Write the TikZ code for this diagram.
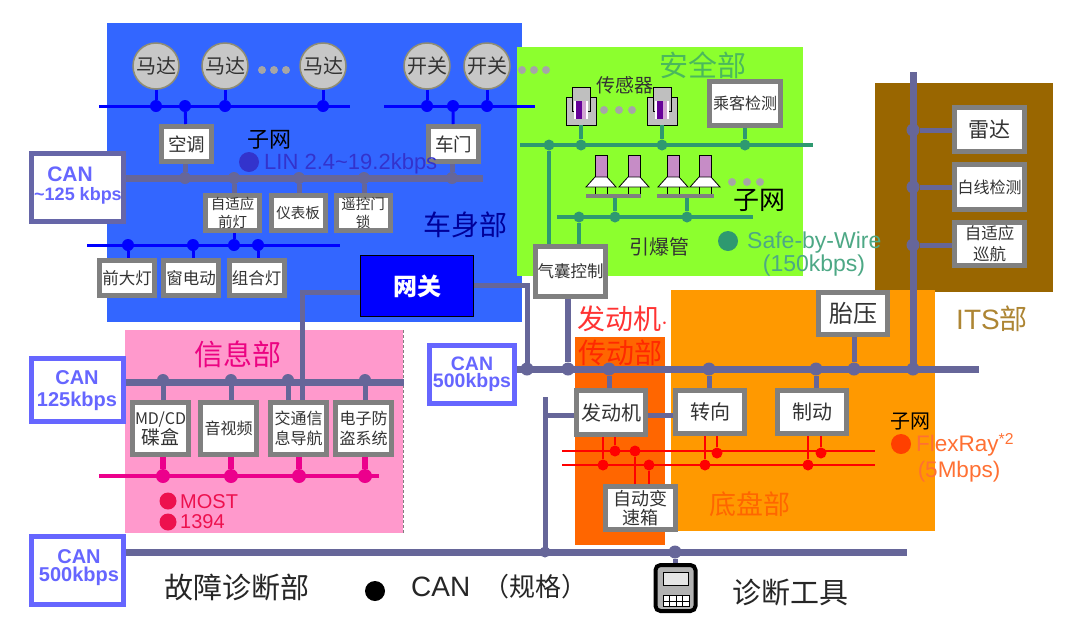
\documentclass[tikz,border=0pt]{standalone}
\usepackage{fontspec}
\usetikzlibrary{calc}
\setmainfont{Noto Sans CJK SC}
\newfontfamily\latin{Liberation Sans}
\definecolor{bodyblue}{HTML}{3366FF}
\definecolor{safegreen}{HTML}{8CFF2E}
\definecolor{itsbrown}{HTML}{996600}
\definecolor{chassis}{HTML}{FF9900}
\definecolor{powertrain}{HTML}{FF6600}
\definecolor{infopink}{HTML}{FF99CC}
\definecolor{busgray}{HTML}{666699}
\definecolor{boxgray}{HTML}{808080}
\definecolor{canblue}{HTML}{6666FF}
\definecolor{wiregreen}{HTML}{2E9970}
\definecolor{lintext}{HTML}{3333CC}
\definecolor{flextext}{HTML}{FF7033}
\newcommand{\fsz}[1]{\fontsize{#1}{#1}\selectfont\baselineskip=1.25\baselineskip}
\tikzset{
  unit/.style={draw=boxgray, line width=5pt, fill=white, inner sep=0, align=center, font=\fsz{16}, text=black!80},
  canbox/.style={draw=canblue, line width=5pt, fill=white, inner sep=0, align=center, text=canblue, font=\latin\bfseries\fsz{18}},
  motor/.style={circle, draw=gray!80!olive, line width=1.5pt, fill=black!22, minimum size=46pt, inner sep=0, font=\fsz{20}, text=black!80},
  label/.style={inner sep=0, align=center},
  gdot/.style={circle, fill=boxgray!70, minimum size=8pt, inner sep=0},
  jdot/.style={circle, fill=#1, minimum size=12pt, inner sep=0},
  lin/.style={draw=blue, line width=3pt},
  can/.style={draw=busgray, line width=7pt},
  canthin/.style={draw=busgray, line width=5pt},
  sbw/.style={draw=wiregreen, line width=3.5pt},
  flex/.style={draw=red, line width=2.5pt},
  most/.style={draw=magenta, line width=4pt},
  sensor/.pic={
    \draw[fill=black!25, line width=0.8pt] (-15,-28) rectangle (15,0);
    \draw[fill=black!25, line width=0.8pt] (-9,-38) rectangle (9,-14);
    \fill[white] (-7,-24) rectangle (7,-6);
    \fill[violet!80!blue] (-5,-24) rectangle (1,-6);
    \fill[violet!35] (1,-24) rectangle (5,-6);
  },
  squib/.pic={
    \draw[fill=violet!45, line width=0.8pt] (-6,-41) rectangle (6,-19);
    \draw[fill=white, line width=0.8pt] (-6,-19) -- (6,-19) -- (15,-9) -- (-15,-9) -- cycle;
    \draw[line width=0.8pt] (-6,-9) -- (-6,0) (6,-9) -- (6,0);
  }
}
\begin{document}
\begin{tikzpicture}[x=1pt, y=-1pt]
\useasboundingbox (0,0) rectangle (1070,619);
% regions
\fill[bodyblue] (107,23) rectangle (522,322);
\fill[safegreen] (517,47) rectangle (803,276);
\fill[itsbrown] (875,83) rectangle (1053,292);
\fill[chassis] (671,290) rectangle (935,531);
\fill[powertrain] (575,337) rectangle (665,545);
\fill[infopink] (125,330) rectangle (403,533);
\draw[black!50, densely dashed, line width=0.5pt] (403,330) -- (403,533);
% bus ends
\coordinate (linAl) at (99,106);
\coordinate (linAr) at (350,106);
\coordinate (linBl) at (384,106);
\coordinate (linBr) at (535,106);
\coordinate (linCl) at (87,245);
\coordinate (linCr) at (340,245);
\coordinate (bodyr) at (483,178);
\coordinate (infor) at (404,382);
\coordinate (mainr) at (979,369);
\coordinate (diagr) at (907,552);
\coordinate (itstop) at (913,72);
\coordinate (sbwAl) at (520,145);
\coordinate (sbwAr) at (813,145);
\coordinate (sbwBl) at (557,217);
\coordinate (sbwBr) at (753,217);
\coordinate (mostl) at (99,476);
\coordinate (mostr) at (379,476);
\coordinate (flexAl) at (562,451);
\coordinate (flexAr) at (875,451);
\coordinate (flexBl) at (562,465);
\coordinate (flexBr) at (875,465);
\coordinate (gwturn) at (302,292);
\coordinate (gwdown) at (527,285);
\coordinate (diagup) at (545,397);
\coordinate (diagturn) at (545,415);
% can gateways
\node[canbox, draw=busgray!85!canblue, minimum width=92pt, minimum height=68pt] (canbody) at (77.5,187.5) {};
\node[canbox, minimum width=92pt, minimum height=63pt] (caninfo) at (77.5,390) {};
\node[canbox, minimum width=92pt, minimum height=68pt] (candiag) at (77.5,570.5) {};
\node[canbox, minimum width=85pt, minimum height=58pt] (canmain) at (472,374.5) {};
% motors and switches
\foreach \n/\x/\t in {motA/156/马达, motB/225/马达, motC/323/马达, swA/427/开关, swB/487/开关}
  \node[motor] (\n) at (\x,66) {\t};
\foreach \n/\x/\y in {d1/262/70, d2/274/70, d3/286/70, d4/522/70, d5/534/70, d6/546/70}
  \node[gdot] (\n) at (\x,\y) {};
% units
\node[unit, minimum width=50pt, minimum height=35pt, font=\fsz{18.5}] (air) at (186.5,144) {空调};
\node[unit, minimum width=50pt, minimum height=35pt, font=\fsz{18.5}] (door) at (453.5,144) {车门};
\node[unit, minimum width=54pt, minimum height=35pt, font=\fsz{14.5}] (afs) at (232.5,213) {自适应\\前灯};
\node[unit, minimum width=54pt, minimum height=35pt, font=\fsz{14.5}] (dash) at (298,213) {仪表板};
\node[unit, minimum width=54pt, minimum height=35pt, font=\fsz{14.5}] (lock) at (363,213) {遥控门\\锁};
\node[unit, minimum width=55pt, minimum height=35pt, font=\fsz{16.5}] (head) at (127,278) {前大灯};
\node[unit, minimum width=55pt, minimum height=35pt, font=\fsz{16.5}] (win) at (191,278) {窗电动};
\node[unit, minimum width=55pt, minimum height=35pt, font=\fsz{16.5}] (combi) at (256.5,278) {组合灯};
\node[draw=black, line width=1.5pt, fill=blue, minimum width=113pt, minimum height=61pt, inner sep=0, text=white, font=\bfseries\fsz{24}] (gw) at (417,286) {网关};
\node[unit, minimum width=56pt, minimum height=52pt, font=\fsz{16}] (cd) at (160.5,428.5) {MD/CD\\{\fsz{19}碟盒}};
\node[unit, minimum width=56pt, minimum height=52pt, font=\fsz{16}] (av) at (228.5,428.5) {音视频};
\node[unit, minimum width=56pt, minimum height=52pt, font=\fsz{16}] (nav) at (298.5,428.5) {交通信\\息导航};
\node[unit, minimum width=56pt, minimum height=52pt, font=\fsz{16}] (alarm) at (363.5,428.5) {电子防\\盗系统};
\node[unit, minimum width=71pt, minimum height=44pt, font=\fsz{16}] (pass) at (745,103.5) {乘客检测};
\node[unit, minimum width=70pt, minimum height=50pt, font=\fsz{16.5}] (bag) at (570.5,271) {气囊控制};
\node[unit, minimum width=70pt, minimum height=44pt, font=\fsz{21}] (radar) at (989.5,129.5) {雷达};
\node[unit, minimum width=70pt, minimum height=45pt, font=\fsz{16}] (lane) at (989.5,187) {白线检测};
\node[unit, minimum width=70pt, minimum height=43pt, font=\fsz{16.5}] (acc) at (989.5,244) {自适应\\巡航};
\node[unit, minimum width=69pt, minimum height=42pt, font=\fsz{24}] (tire) at (853,313.5) {胎压};
\node[unit, minimum width=69pt, minimum height=44pt, font=\fsz{20}] (eng) at (611,412.5) {发动机};
\node[unit, minimum width=69pt, minimum height=43pt, font=\fsz{20}] (steer) at (710,412) {转向};
\node[unit, minimum width=69pt, minimum height=43pt, font=\fsz{20}] (brake) at (812,412) {制动};
\node[unit, minimum width=70pt, minimum height=43pt, font=\fsz{18}] (atm) at (640,508) {自动变\\[-4pt]速箱};
% sensors and squibs
\coordinate (sensA) at (581,125);
\coordinate (sensB) at (662,125);
\pic at (sensA) {sensor};
\pic at (sensB) {sensor};
\foreach \n/\x in {d7/604, d8/619, d9/632}
  \node[gdot] (\n) at (\x,110) {};
\foreach \n/\x in {d10/732, d11/747, d12/760}
  \node[gdot] (\n) at (\x,182) {};
\foreach \x in {601, 634, 673, 705}
  \pic at (\x,196) {squib};
\coordinate (barAl) at (586,196);
\coordinate (barAr) at (641,196);
\coordinate (barBl) at (657,196);
\coordinate (barBr) at (714,196);
\coordinate (barA) at (615,196);
\coordinate (barB) at (687,196);
% buses
\draw[lin] (linAl) -- (linAr);
\draw[lin] (linBl) -- (linBr);
\draw[lin] (linCl) -- (linCr);
\draw[can] (canbody.east |- bodyr) -- (bodyr);
\draw[can] (caninfo.east |- infor) -- (infor);
\draw[can] (candiag.east |- diagr) -- (diagr);
\draw[can] (canmain.east |- mainr) -- (mainr);
\draw[can] (itstop) -- (itstop |- mainr);
\draw[sbw] (sbwAl) -- (sbwAr);
\draw[sbw] (sbwBl) -- (sbwBr);
\draw[most] (mostl) -- (mostr);
\draw[flex] (flexAl) -- (flexAr);
\draw[flex] (flexBl) -- (flexBr);
\draw[canthin] (gw.west |- gwturn) -- (gwturn) -- (gwturn |- nav.north);
\draw[canthin] (gw.east |- gwdown) -- (gwdown) -- (gwdown |- mainr);
\draw[canthin] (diagup) -- (diagup |- diagr);
\draw[canthin] (diagturn) -- (eng.west |- diagturn);
\draw[canthin] (eng.east |- diagturn) -- (steer.west |- diagturn);
% stubs and joints, lin
\foreach \n/\m/\x in {jA/motA/156, jB/motB/225, jC/motC/323, jD/swA/427, jE/swB/487}{
  \node[jdot=blue] (\n) at (\x,106) {};
  \draw[lin] (\m) -- (\n);
}
\node[jdot=blue] (jF) at (185,106) {};
\node[jdot=blue] (jG) at (453,106) {};
\draw[lin] (jF) -- (air);
\draw[lin] (jG) -- (door);
\foreach \n/\m/\x in {jH/head/128, jI/win/193, jK/combi/258}{
  \node[jdot=blue] (\n) at (\x,245) {};
  \draw[lin] (\n) -- (\n |- \m.north);
}
\node[jdot=blue] (jJ) at (234,245) {};
\draw[lin] (jJ) -- (jJ |- afs.south);
% stubs and joints, can
\foreach \n/\x in {cA/185, cB/234, cC/299, cD/364, cE/452}
  \node[jdot=busgray] (\n) at (\x,178) {};
\draw[canthin] (cA) -- (cA |- air.south);
\draw[canthin] (cE) -- (cE |- door.south);
\draw[canthin] (cB) -- (cB |- afs.north);
\draw[canthin] (cC) -- (cC |- dash.north);
\draw[canthin] (cD) -- (cD |- lock.north);
\foreach \n/\m/\x in {iA/cd/163, iB/av/231, iC/nav/288, iD/alarm/365}{
  \node[jdot=busgray] (\n) at (\x,380) {};
  \draw[canthin] (\n) -- (\n |- \m.north);
}
\foreach \n/\m/\x in {pA/cd/163, pB/av/231, pC/nav/299, pD/alarm/365}{
  \node[jdot=magenta, minimum size=14pt] (\n) at (\x,476) {};
  \draw[most, line width=6pt] (\n) -- (\n |- \m.south);
}
\foreach \n/\x in {mA/527, mB/568, mC/609, mD/709, mE/816, mF/854, mG/913}
  \node[jdot=busgray, minimum size=13pt] (\n) at (\x,369) {};
\draw[can, line width=6pt] (mB) -- (mB |- bag.south);
\draw[can, line width=5pt] (mC) -- (mC |- eng.north);
\draw[can, line width=5pt] (mD) -- (mD |- steer.north);
\draw[can, line width=5pt] (mE) -- (mE |- brake.north);
\draw[can, line width=5pt] (mF) -- (mF |- tire.south);
\foreach \n/\m/\y in {tA/radar/130, tB/lane/187, tC/acc/245}{
  \node[jdot=busgray, minimum size=13pt] (\n) at (913,\y) {};
  \draw[can, line width=5pt] (\n) -- (\m.west |- \n);
}
\node[jdot=busgray, minimum size=11pt] (dA) at (545,552) {};
\node[jdot=busgray, minimum size=13pt] (dB) at (675,552) {};
% safe by wire
\foreach \n/\x in {sA/549, sB/581, sC/662, sD/745}
  \node[jdot=wiregreen, minimum size=11pt] (\n) at (\x,145) {};
\draw[sbw] (sB) -- (sensA);
\draw[sbw] (sC) -- (sensB);
\draw[sbw] (sD) -- (sD |- pass.south);
\draw[sbw] (sA) -- (sA |- bag.north);
\foreach \n/\x in {sE/579, sF/615, sG/687}
  \node[jdot=wiregreen, minimum size=11pt] (\n) at (\x,217) {};
\draw[sbw] (sE) -- (sE |- bag.north);
\draw[sbw] (sF) -- (barA);
\draw[sbw] (sG) -- (barB);
\draw[draw=boxgray, line width=3.5pt] (barAl) -- (barAr);
\draw[draw=boxgray, line width=3.5pt] (barBl) -- (barBr);
% flexray
\foreach \n/\x/\y in {fA/603/465, fB/615/451, fC/635/451, fD/649/465, fE/705/465, fF/717/453, fG/808/465, fH/821/453}
  \node[jdot=red, minimum size=11pt] (\n) at (\x,\y) {};
\foreach \n/\m in {fA/eng, fB/eng, fE/steer, fF/steer, fG/brake, fH/brake}
  \draw[flex] (\n) -- (\n |- \m.south);
\foreach \n in {fC, fD}
  \draw[flex] (\n) -- (\n |- atm.north);
% diagnosis tool
\node[draw=black, line width=4pt, rounded corners=5pt, fill=black!30, minimum width=40pt, minimum height=46pt, inner sep=0] (tool) at (675.5,588) {};
\node[draw=black, line width=1.5pt, fill=black!10, minimum width=25pt, minimum height=13pt, inner sep=0] (screen) at (676,579) {};
\node[draw=black, line width=1pt, fill=white, minimum width=26pt, minimum height=11pt, inner sep=0] (keys) at (676,601) {};
\foreach \x in {-6.5, 0, 6.5}
  \draw[line width=0.7pt] ($(keys.south)+(\x,0)$) -- ($(keys.north)+(\x,0)$);
\draw[line width=0.7pt] (keys.west) -- (keys.east);
\draw[can, line width=5pt] (dB) -- (dB |- tool.north);
\node[jdot=black, minimum size=20pt] (bullet) at (375,591) {};
% texts
\node[label, text=canblue, font=\latin\bfseries\fsz{21}] (tcanA) at (70,174) {CAN};
\node[label, text=canblue, font=\latin\bfseries\fsz{18}] (tcanB) at (78,196) {\textasciitilde125 kbps};
\node[label, text=canblue, font=\latin\bfseries\fsz{20}] (tcanC) at (77,391) {CAN\\[-3pt]125kbps};
\node[label, text=canblue, font=\latin\bfseries\fsz{20}] (tcanD) at (79,568) {CAN\\[-7pt]500kbps};
\node[label, text=canblue, font=\latin\bfseries\fsz{19.5}] (tcanE) at (472,374) {CAN\\[-7pt]500kbps};
\node[label, font=\fsz{22}] (subA) at (269,140) {子网};
\node[jdot=lintext, minimum size=20pt] (binA) at (249,162) {};
\node[label, anchor=west, text=lintext, font=\latin\fsz{22}] (tlin) at (264,164) {LIN 2.4\textasciitilde19.2kbps};
\node[label, text=blue!60!black, font=\fsz{28}] (tbody) at (465,225) {车身部};
\node[label, text=magenta!90!red, font=\fsz{29}] (tinfo) at (238,354) {信息部};
\node[jdot=magenta!40!red, minimum size=17pt] (binB) at (168,501) {};
\node[jdot=magenta!40!red, minimum size=17pt] (binC) at (168,522) {};
\node[label, anchor=west, text=magenta!40!red, font=\latin\fsz{20}] (tmost) at (180,502) {MOST};
\node[label, anchor=west, text=magenta!40!red, font=\latin\fsz{20}] (t1394) at (180,522) {1394};
\node[label, font=\fsz{29}, text=black!85] (tdiag) at (237,587) {故障诊断部};
\node[label, anchor=west, font=\latin\fsz{28}, text=black!85] (tcan) at (411,587) {CAN};
\node[label, font=\fsz{26}, text=black!85] (tspec) at (535,587) {（规格）};
\node[label, font=\fsz{29}, text=black!85] (ttool) at (790,593) {诊断工具};
\node[label, text=wiregreen!70!safegreen, font=\fsz{29}] (tsafe) at (703,65) {安全部};
\node[label, text=black!80, font=\fsz{19}] (tsens) at (625,85) {传感器};
\node[label, font=\fsz{26}] (subB) at (759,200) {子网};
\node[label, text=black!80, font=\fsz{20}] (tsquib) at (659,247) {引爆管};
\node[jdot=wiregreen, minimum size=20pt] (binD) at (728,241) {};
\node[label, anchor=west, text=wiregreen!85!white, font=\latin\fsz{23}] (tsbw) at (747,243) {Safe-by-Wire};
\node[label, text=wiregreen!85!white, font=\latin\fsz{23}] (tsbwb) at (814,266) {(150kbps)};
\node[label, text=itsbrown!80!white, font=\fsz{28}] (tits) at (992,319) {{\latin ITS}部};
\node[label, anchor=west, text=red!80!white, font=\fsz{28}] (tpowA) at (577,319) {发动机$\cdot$};
\node[label, text=red!60!powertrain, font=\fsz{28}] (tpowB) at (620,353) {传动部};
\node[label, text=powertrain, font=\fsz{27}] (tchas) at (750,504) {底盘部};
\node[label, font=\fsz{20}] (subC) at (910,421) {子网};
\node[jdot=orange!50!red, minimum size=20pt] (binE) at (901,444) {};
\node[label, anchor=west, text=flextext, font=\latin\fsz{22.5}] (tflex) at (916,445) {FlexRay\textsuperscript{*2}};
\node[label, text=flextext, font=\latin\fsz{22.5}] (tflexb) at (959,472) {(5Mbps)};
\end{tikzpicture}
\end{document}
